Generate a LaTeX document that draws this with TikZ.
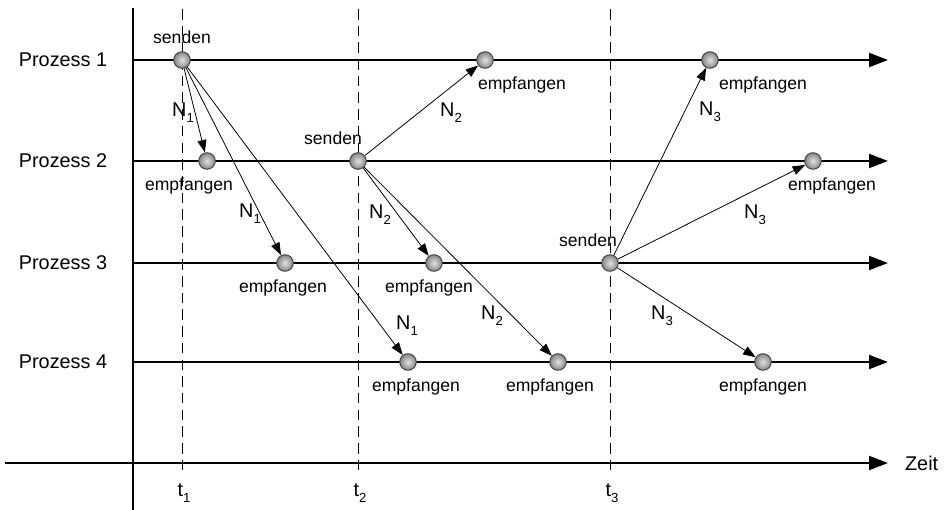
\documentclass[tikz,border=0pt]{standalone}
\usepackage{fontspec}
\setmainfont{Liberation Sans}
\usetikzlibrary{arrows.meta,positioning}
\definecolor{evtLight}{RGB}{225,225,225}
\definecolor{evtDark}{RGB}{135,135,135}
\definecolor{evtRim}{RGB}{70,70,70}
\newcommand{\msg}[1]{N\raisebox{-0.6ex}{\fontsize{7.5}{8}\selectfont #1}}
\newcommand{\tick}[1]{t\raisebox{-0.6ex}{\fontsize{7.5}{8}\selectfont #1}}
\tikzset{
  evt/.style={
    circle, draw=evtRim, line width=0.6pt,
    inner color=evtLight, outer color=evtDark,
    minimum size=0.33cm, inner sep=0pt},
  txt/.style={font=\fontsize{10}{12}\selectfont, inner sep=1pt},
  bigtxt/.style={font=\fontsize{11.3}{13}\selectfont, inner sep=1pt},
  procline/.style={-{Triangle[length=3.8mm,width=2.8mm]}, line width=1.2pt},
  msgline/.style={-{Triangle[length=2.5mm,width=1.8mm]}, line width=0.45pt},
  timemark/.style={line width=0.45pt, dash pattern=on 6pt off 3.5pt}
}

\begin{document}
\begin{tikzpicture}[x=0.02cm, y=-0.02cm]

    \useasboundingbox (0,0) rectangle (944,510);

    % ---- axes and dashed time marks ------------------------------
    \coordinate (ytop) at (133,8);
    \coordinate (ybot) at (133,510);
    \draw[line width=0.9pt] (ytop) -- (ybot);

    \coordinate (tstart) at (5,463);
    \coordinate (tend)   at (888,463);
    \draw[procline] (tstart) -- (tend);
    \node[bigtxt, right=0.3cm of tend] (zeit) {Zeit};

    \foreach \x/\i in {182/1, 358/2, 610/3} {
      \coordinate (m\i top) at (\x,9);
      \coordinate (m\i bot) at (\x,474);
      \draw[timemark] (m\i top) -- (m\i bot);
      \node[bigtxt] (t\i) at (\x+2,493) {\tick{\i}};
    }

    % ---- process lines -------------------------------------------
    \foreach \y/\i in {60/1, 161/2, 263/3, 362/4} {
      \node[bigtxt] (p\i) at (63,\y) {Prozess \i};
      \coordinate (l\i a) at (133,\y);
      \coordinate (l\i b) at (888,\y);
      \draw[procline] (l\i a) -- (l\i b);
    }

    % ---- events ----------------------------------------------------
    \node[evt] (s1)  at (182,60)  {};
    \node[evt] (r1a) at (485,60)  {};
    \node[evt] (r1b) at (710,60)  {};

    \node[evt] (r2a) at (207,161) {};
    \node[evt] (s2)  at (358,161) {};
    \node[evt] (r2b) at (813,161) {};

    \node[evt] (r3a) at (285,263) {};
    \node[evt] (r3b) at (434,263) {};
    \node[evt] (s3)  at (610,263) {};

    \node[evt] (r4a) at (408,362) {};
    \node[evt] (r4b) at (558,362) {};
    \node[evt] (r4c) at (763,362) {};

    % ---- senden / empfangen ----------------------------------------
    \node[txt, above=0.1cm of s1] (s1t) {senden};
    \node[txt, above=0.1cm of s2, xshift=-0.5cm]  (s2t) {senden};
    \node[txt, above=0.1cm of s3, xshift=-0.44cm] (s3t) {senden};

    \node[txt, below=0.12cm of r1a, xshift=0.74cm]  (r1at) {empfangen};
    \node[txt, below=0.12cm of r1b, xshift=1.06cm]  (r1bt) {empfangen};
    \node[txt, below=0.12cm of r2a, xshift=-0.36cm] (r2at) {empfangen};
    \node[txt, below=0.12cm of r2b, xshift=0.38cm]  (r2bt) {empfangen};
    \node[txt, below=0.12cm of r3a, xshift=-0.04cm] (r3at) {empfangen};
    \node[txt, below=0.12cm of r3b, xshift=-0.1cm]  (r3bt) {empfangen};
    \node[txt, below=0.12cm of r4a, xshift=0.16cm]  (r4at) {empfangen};
    \node[txt, below=0.12cm of r4b, xshift=-0.16cm] (r4bt) {empfangen};
    \node[txt, below=0.12cm of r4c]                 (r4ct) {empfangen};

    % ---- messages --------------------------------------------------
    \draw[msgline] (s1) -- (r2a);
    \draw[msgline] (s1) -- (r3a);
    \draw[msgline] (s1) -- (r4a);
    \draw[msgline] (s2) -- (r1a);
    \draw[msgline] (s2) -- (r3b);
    \draw[msgline] (s2) -- (r4b);
    \draw[msgline] (s3) -- (r1b);
    \draw[msgline] (s3) -- (r2b);
    \draw[msgline] (s3) -- (r4c);

    \node[bigtxt] (n1a) at (183,113) {\msg{1}};
    \node[bigtxt] (n1b) at (250,214) {\msg{1}};
    \node[bigtxt] (n1c) at (407,326) {\msg{1}};
    \node[bigtxt] (n2a) at (451,113) {\msg{2}};
    \node[bigtxt] (n2b) at (380,215) {\msg{2}};
    \node[bigtxt] (n2c) at (492,316) {\msg{2}};
    \node[bigtxt] (n3a) at (710,112) {\msg{3}};
    \node[bigtxt] (n3b) at (755,215) {\msg{3}};
    \node[bigtxt] (n3c) at (662,316) {\msg{3}};

\end{tikzpicture}
\end{document}
